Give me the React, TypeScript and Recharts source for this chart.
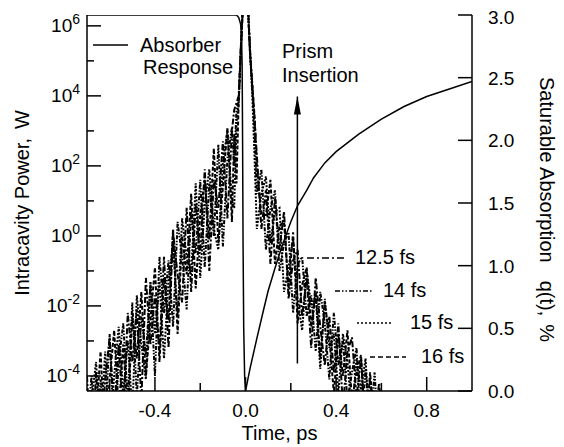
import React from "react";
import { ComposedChart, Line, XAxis, YAxis } from "recharts";

const FONT = '"Liberation Sans", Arial, Helvetica, sans-serif';

// time grid (ps) shared by the four pulse traces
const times = [
  -0.7, -0.68, -0.66, -0.64, -0.62, -0.6, -0.58, -0.56, -0.54, -0.52, -0.5,
  -0.48, -0.46, -0.44, -0.42, -0.4, -0.38, -0.36, -0.34, -0.32, -0.3, -0.28,
  -0.26, -0.24, -0.22, -0.2, -0.18, -0.16, -0.14, -0.12, -0.1, -0.08, -0.06,
  -0.05, -0.04, -0.03, -0.02, -0.01, 0, 0.01, 0.02, 0.03, 0.04,
  0.05, 0.07, 0.09, 0.11, 0.13, 0.15, 0.17, 0.19, 0.21, 0.23, 0.25, 0.27,
  0.29, 0.31, 0.33, 0.35, 0.37, 0.39, 0.41, 0.43, 0.45, 0.47, 0.49, 0.51,
  0.53, 0.55, 0.57, 0.59, 0.61, 0.63, 0.65,
];

// log10 of intracavity power (W)
const pulse125 = [
  -4.0, -6.6, -3.9, -6.5, -4.1, -2.9, -5.1, -3.1, -5.2, -2.2, -3.6, -2.1, -4.7,
  -1.2, -3.1, -1.7, -3.3, -0.6, -3.2, 0.1, -1.1, -1.9, 0.8, -1.6, 0.9, -0.5,
  1.9, -1.0, 1.6, 0.8, 2.7, 0.5, 3.0,
  3.6, 3.8, 4.0, 5.5, 6.8, 7.5, 6.7, 5.3, 4.3, 3.3,
  2.3, 0.2, 1.3, -0.8, 1.1, -0.4, 0.7, -1.8, -0.7, -0.4, -2.3, -1.2, -3.2,
  -1.2, -2.6, -3.7, -2.3, -3.9, -2.5, -4.9, -3.3, -2.9, -4.6, -3.5, -5.6,
  -4.1, -5.2, -4.2, -6.2, -5.1, -6.2,
];
const pulse14 = [
  -5.5, -4.0, -6.6, -4.1, -5.4, -2.8, -5.9, -3.6, -2.5, -4.7, -1.9, -4.6, -2.3,
  -3.4, -1.4, -4.0, -0.6, -2.2, -0.7, -2.6, 0.4, -0.6, -2.1, 0.7, -0.5, 1.6,
  -0.9, 1.5, 0.0, 2.6, -0.3, 2.2, 3.1,
  2.0, 3.6, 3.9, 5.4, 6.8, 7.5, 6.6, 5.2, 4.2, 3.0,
  1.2, 1.9, -0.4, 0.8, 1.3, -1.0, -0.2, 0.1, -2.2, -0.8, -0.6, -2.3, -1.7,
  -3.3, -1.6, -2.5, -4.1, -2.2, -3.7, -3.0, -4.7, -3.9, -3.2, -5.6, -3.8,
  -5.4, -3.9, -6.2, -5.0, -4.8, -6.6,
];
const pulse15 = [
  -6.8, -4.7, -3.6, -5.8, -3.3, -5.9, -4.0, -2.6, -4.5, -3.0, -5.0, -1.7, -3.1,
  -4.1, -1.3, -2.8, -1.3, -3.5, -1.3, -0.2, -2.3, 0.5, -0.6, -1.1, 1.5, -1.2,
  0.9, 1.9, 0.2, -0.4, 2.1, 3.0, 1.0,
  0.8, 3.2, 3.8, 5.5, 6.7, 7.5, 6.7, 5.3, 4.0, 2.2,
  0.2, 1.2, 1.7, -0.2, 0.7, 0.8, -1.6, -0.9, -0.1, -1.8, -2.7, -1.0, -2.0,
  -1.7, -3.8, -1.8, -3.2, -2.8, -4.5, -2.8, -3.6, -5.1, -3.5, -4.4, -3.5,
  -5.7, -4.6, -5.5, -4.5, -6.8, -5.1,
];
const pulse16 = [
  -4.4, -7.0, -5.2, -3.3, -5.9, -4.1, -2.7, -5.0, -3.1, -5.2, -2.3, -3.5, -1.6,
  -4.0, -2.4, -0.9, -3.6, -1.2, -2.4, 0.2, -2.8, 0.0, -1.1, 1.2, -1.5, 0.6,
  1.6, -0.1, 2.5, -0.2, 1.4, 3.1, 0.4,
  2.9, 1.5, 3.9, 5.4, 6.8, 7.5, 6.6, 5.2, 4.3, 3.4,
  2.0, 0.6, 0.6, 1.6, -0.8, 0.3, 0.4, -1.5, 0.1, -2.5, -1.4, -0.9, -2.6,
  -1.6, -3.5, -1.9, -2.9, -4.5, -2.8, -4.0, -2.7, -4.7, -3.9, -3.4, -5.7,
  -3.9, -5.5, -4.5, -5.4, -4.6, -7.1,
];

// absorber response q(t), %
const absorberTime = [
  -0.7, -0.1, -0.04, -0.03, -0.022, -0.018, -0.015, -0.013, -0.011, -0.008,
  -0.004, 0, 0.01, 0.02, 0.05, 0.08, 0.1, 0.13, 0.16, 0.2, 0.23, 0.27, 0.3,
  0.35, 0.4, 0.45, 0.5, 0.6, 0.7, 0.8, 0.9, 1.0,
];
const absorberQ = [
  3.0, 3.0, 3.0, 2.98, 2.93, 2.85, 2.6, 2.0, 1.2, 0.5, 0.12, 0.0, 0.09, 0.18,
  0.42, 0.65, 0.8, 0.98, 1.15, 1.35, 1.48, 1.6, 1.7, 1.82, 1.91, 1.98, 2.05,
  2.17, 2.27, 2.35, 2.41, 2.47,
];

// "Prism Insertion" arrow
const arrowTime = [0.229, 0.229];
const arrowQ = [0.22, 2.35];

const timeTicks = [-0.6, -0.4, -0.2, 0, 0.2, 0.4, 0.6, 0.8];
const timeLabels = [-0.4, 0, 0.4, 0.8];
const powerTicks = [-4, -3, -2, -1, 0, 1, 2, 3, 4, 5, 6];
const qTicks = [0, 0.5, 1, 1.5, 2, 2.5, 3];

const series = [
  { key: "p125", name: "12.5 fs", dash: "6 2 2 2", sample: "7 3 2 3" },
  { key: "p14", name: "14 fs", dash: "4 1.5 1.5 1.5 1.5 1.5", sample: "5 2 1.5 2 1.5 2" },
  { key: "p15", name: "15 fs", dash: "2 1.5", sample: "2 2" },
  { key: "p16", name: "16 fs", dash: "4 2", sample: "5 3" },
];

const pulseData = times.map((t, i) => ({
  t,
  p125: pulse125[i],
  p14: pulse14[i],
  p15: pulse15[i],
  p16: pulse16[i],
}));
const absorberData = absorberTime.map((t, i) => ({ t, q: absorberQ[i] }));
const arrowData = arrowTime.map((t, i) => ({ t, q: arrowQ[i] }));

const isLabel = (v: number) => timeLabels.some((l) => Math.abs(l - v) < 1e-6);

const BottomTick = (props: any) => {
  const { x, y, payload } = props;
  const major = isLabel(payload.value);
  return (
    <g>
      <line x1={x} x2={x} y1={y} y2={y - (major ? 14 : 8)} stroke="#000" strokeWidth={1.5} />
      {major && (
        <text x={x} y={y + 26} textAnchor="middle" fontFamily={FONT} fontSize={19} fill="#000">
          {payload.value.toFixed(1)}
        </text>
      )}
    </g>
  );
};

const TopTick = (props: any) => {
  const { x, y, payload } = props;
  const major = isLabel(payload.value);
  return <line x1={x} x2={x} y1={y} y2={y + (major ? 15 : 9)} stroke="#000" strokeWidth={1.5} />;
};

const PowerTick = (props: any) => {
  const { x, y, payload } = props;
  const v = payload.value;
  const major = v % 2 === 0;
  return (
    <g>
      <line x1={x} x2={x + (major ? 14 : 7)} y1={y} y2={y} stroke="#000" strokeWidth={1.5} />
      {major && (
        <text x={x - 7} y={y + 6} textAnchor="end" fontFamily={FONT} fontSize={19} fill="#000">
          10
          <tspan dy={-8} fontSize={14}>
            {v}
          </tspan>
        </text>
      )}
    </g>
  );
};

const QTick = (props: any) => {
  const { x, y, payload } = props;
  const top = payload.value === 3;
  return (
    <g>
      <line x1={x} x2={x - 14} y1={y} y2={y} stroke="#000" strokeWidth={1.5} />
      <text x={x + 16} y={y + (top ? 9 : 7)} textAnchor="start" fontFamily={FONT} fontSize={19} fill="#000">
        {payload.value.toFixed(1)}
      </text>
    </g>
  );
};

const ArrowHead = (props: any) => {
  const { cx, cy, index } = props;
  if (index !== 1) return <g key={`a${index}`} />;
  return <path key="head" d={`M${cx},${cy} L${cx - 3.5},${cy + 18} L${cx + 3.5},${cy + 18} Z`} fill="#000" />;
};

const axisLine = { stroke: "#000", strokeWidth: 1.5 };

export default function App() {
  return (
    <div style={{ position: "relative", width: 556, height: 439, background: "#fff" }}>
      <ComposedChart
        width={556}
        height={439}
        data={pulseData}
        margin={{ top: 7, right: 0, bottom: 0, left: 0 }}
      >
        <XAxis
          xAxisId="b"
          dataKey="t"
          type="number"
          domain={[-0.7, 1.0]}
          ticks={timeTicks}
          interval={0}
          allowDataOverflow
          height={56}
          axisLine={axisLine}
          tickLine={false}
          tickSize={0}
          tickMargin={0}
          tick={(p: any) => <BottomTick {...p} />}
        />
        <XAxis
          xAxisId="top"
          orientation="top"
          dataKey="t"
          type="number"
          domain={[-0.7, 1.0]}
          ticks={timeTicks}
          interval={0}
          allowDataOverflow
          height={0}
          axisLine={axisLine}
          tickLine={false}
          tickSize={0}
          tickMargin={0}
          tick={(p: any) => <TopTick {...p} />}
        />
        <YAxis
          yAxisId="p"
          type="number"
          domain={[-4.43, 6.31]}
          ticks={powerTicks}
          interval={0}
          allowDataOverflow
          width={79}
          axisLine={axisLine}
          tickLine={false}
          tickSize={0}
          tickMargin={0}
          tick={(p: any) => <PowerTick {...p} />}
        />
        <YAxis
          yAxisId="q"
          orientation="right"
          type="number"
          domain={[0, 3]}
          ticks={qTicks}
          interval={0}
          allowDataOverflow
          width={92}
          axisLine={axisLine}
          tickLine={false}
          tickSize={0}
          tickMargin={0}
          tick={(p: any) => <QTick {...p} />}
        />
        {series.map((s) => (
          <Line
            key={s.key}
            xAxisId="b"
            yAxisId="p"
            dataKey={s.key}
            type="linear"
            stroke="#000"
            strokeWidth={2}
            strokeDasharray={s.dash}
            dot={false}
            activeDot={false}
            isAnimationActive={false}
          />
        ))}
        <Line
          xAxisId="b"
          yAxisId="q"
          data={absorberData}
          dataKey="q"
          type="linear"
          stroke="#000"
          strokeWidth={1.5}
          dot={false}
          activeDot={false}
          isAnimationActive={false}
        />
        <Line
          xAxisId="b"
          yAxisId="q"
          data={arrowData}
          dataKey="q"
          type="linear"
          stroke="#000"
          strokeWidth={1.5}
          dot={(p: any) => <ArrowHead {...p} />}
          activeDot={false}
          isAnimationActive={false}
        />
      </ComposedChart>
      <svg
        width={556}
        height={439}
        style={{ position: "absolute", left: 0, top: 0, pointerEvents: "none" }}
        fontFamily={FONT}
        fontSize={20}
        fill="#000"
      >
        <line x1={85} x2={120} y1={37} y2={37} stroke="#000" strokeWidth={1.5} />
        <text x={132} y={44}>Absorber</text>
        <text x={135} y={66}>Response</text>
        <text x={274} y={50}>Prism</text>
        <text x={274} y={74}>Insertion</text>

        <line x1={299} x2={336} y1={250} y2={250} stroke="#000" strokeWidth={1.4} strokeDasharray={series[0].sample} />
        <text x={347} y={256}>12.5 fs</text>
        <line x1={327} x2={364} y1={283} y2={283} stroke="#000" strokeWidth={1.4} strokeDasharray={series[1].sample} />
        <text x={375} y={289}>14 fs</text>
        <line x1={349} x2={384} y1={315} y2={315} stroke="#000" strokeWidth={1.4} strokeDasharray={series[2].sample} />
        <text x={402} y={321}>15 fs</text>
        <line x1={362} x2={398} y1={349} y2={349} stroke="#000" strokeWidth={1.4} strokeDasharray={series[3].sample} />
        <text x={413} y={355}>16 fs</text>

        <text x={271.5} y={432} textAnchor="middle">Time, ps</text>
        <text transform="translate(21,195) rotate(-90)" textAnchor="middle">
          Intracavity Power,<tspan dx={9}>W</tspan>
        </text>
        <text transform="translate(532,69) rotate(90)" textAnchor="start">
          Saturable Absorption<tspan dx={18}>q(t),</tspan>
          <tspan dx={8}>%</tspan>
        </text>
      </svg>
    </div>
  );
}
